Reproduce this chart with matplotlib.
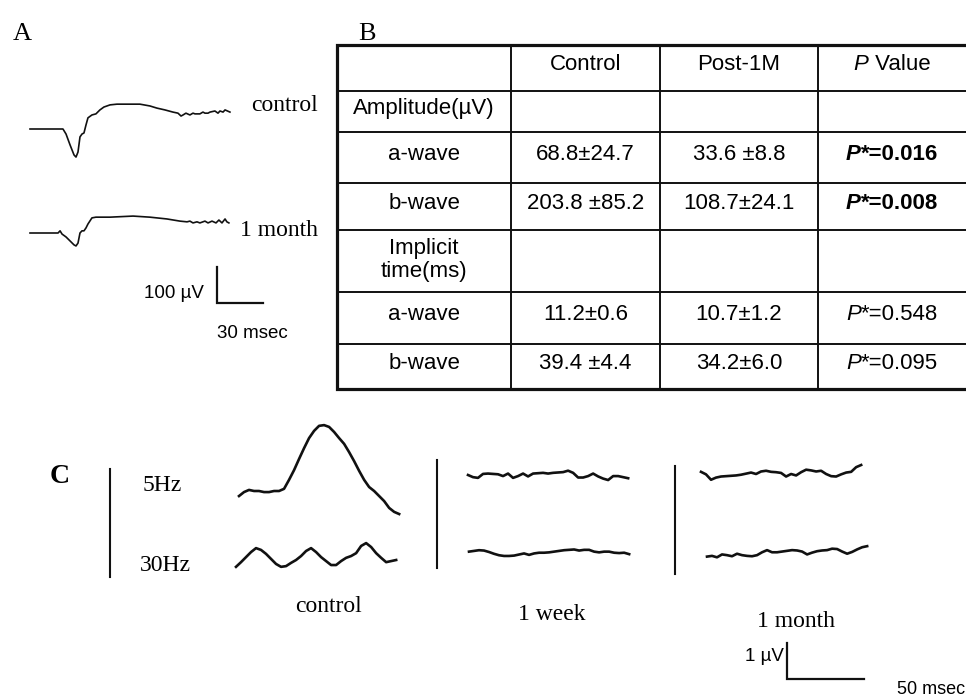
import numpy as np
import matplotlib
matplotlib.use("Agg")
import matplotlib.pyplot as plt
from matplotlib.transforms import Affine2D

# ---------------- Panel A: ERG traces (time in ms, amplitude in µV) ----------------
a_ctrl_t = [0, 21.5, 23.5, 26.1, 28.7, 30.0, 31.3, 32.6, 33.9, 35.2,
            36.5, 37.8, 40.4, 43.0, 45.6, 48.2, 52.2, 56.7, 65.2, 71.7,
            78.2, 82.8, 88.0, 93.2, 96.5, 98.5, 99.8, 101.7, 104.3, 106.3,
            107.6, 110.8, 112.8, 114.1, 116.1, 117.4, 120.6, 122.6, 123.9, 125.9,
            127.2, 130.4]
a_ctrl_v = [0, 0, -14, -44, -72, -78, -64, -22, -14, -11,
            11, 31, 39, 42, 53, 61, 67, 69, 69, 69,
            64, 58, 53, 47, 44, 36, 39, 44, 39, 44,
            42, 42, 47, 44, 44, 47, 50, 44, 50, 47,
            53, 47]
a_1m_t = [0, 18.3, 19.6, 20.9, 23.5, 26.1, 28.7, 30.0, 31.3, 32.6,
          33.9, 35.2, 36.5, 37.8, 40.4, 43.0, 45.6, 52.2, 67.2, 78.2,
          89.3, 97.8, 102.4, 104.3, 106.3, 108.9, 110.8, 114.1, 116.1, 118.7,
          121.3, 123.2, 125.2, 127.2, 128.4, 129.7]
a_1m_v = [0, 0, 6, -3, -11, -22, -33, -36, -28, 0,
          6, 6, 14, 25, 42, 44, 44, 44, 47, 44,
          39, 33, 31, 33, 28, 31, 28, 33, 28, 33,
          28, 36, 28, 39, 31, 28]
a_scale_ms, a_scale_uv = 30, 100

# ---------------- Panel B: table ----------------
col_headers = ["Control", "Post-1M", "Value"]
row_labels = ["Amplitude(µV)", "a-wave", "b-wave", "Implicit\ntime(ms)", "a-wave", "b-wave"]
control_vals = ["", "68.8±24.7", "203.8 ±85.2", "", "11.2±0.6", "39.4 ±4.4"]
post1m_vals = ["", "33.6 ±8.8", "108.7±24.1", "", "10.7±1.2", "34.2±6.0"]
p_vals = ["", "0.016", "0.008", "", "0.548", "0.095"]
p_bold = [False, True, True, False, False, False]

# ---------------- Panel C: flicker ERG (µV, sampled every c_dt ms) ----------------
c_dt = 3.25
c_ctrl_5hz = [-0.14, -0.03, 0.03, 0, 0, -0.03, -0.03, 0, 0, 0.06,
              0.31, 0.58, 0.89, 1.19, 1.47, 1.67, 1.81, 1.83, 1.78, 1.64,
              1.47, 1.31, 1.08, 0.83, 0.56, 0.31, 0.11, 0, -0.14, -0.28,
              -0.47, -0.58, -0.64]
c_ctrl_30hz = [-0.19, -0.06, 0.08, 0.22, 0.33, 0.28, 0.17, 0.03, -0.11, -0.19,
               -0.17, -0.08, 0, 0.11, 0.25, 0.33, 0.22, 0.08, -0.03, -0.14,
               -0.14, -0.03, 0.06, 0.11, 0.19, 0.39, 0.47, 0.36, 0.19, 0.06,
               -0.06, -0.03, 0]
c_1wk_5hz = [0, -0.06, -0.08, 0.03, 0.04, 0.03, 0.02, -0.03, 0.04, -0.08,
             -0.03, 0.04, -0.04, 0.04, 0.05, 0.06, 0.04, 0.06, 0.07, 0.08,
             0.12, 0.06, -0.07, -0.07, -0.03, 0.04, -0.04, -0.1, -0.14, -0.03,
             -0.03, -0.06, -0.09]
c_1wk_30hz = [0.01, 0.03, 0.05, 0.04, 0, -0.05, -0.09, -0.11, -0.11, -0.10,
              -0.07, -0.04, -0.08, -0.04, -0.02, -0.02, -0.01, 0.01, 0.03, 0.05,
              0.06, 0.07, 0.04, 0.06, 0.06, 0.01, -0.01, 0.01, 0.01, -0.02,
              -0.03, -0.02, -0.06]
c_1mo_5hz = [0.06, -0.01, -0.16, -0.10, -0.07, -0.06, -0.05, -0.04, -0.02, 0.01,
             0.04, 0, 0.07, 0.09, 0.06, 0.05, 0.03, -0.07, 0, -0.04,
             0.05, 0.12, 0.10, 0.07, 0.09, 0, -0.06, -0.07, -0.01, 0.04,
             0.06, 0.19, 0.25]
c_1mo_30hz = [-0.10, -0.08, -0.12, -0.04, -0.06, -0.09, -0.02, -0.06, -0.08, -0.09,
              -0.06, 0.02, 0.08, 0.02, 0.02, 0.04, 0.06, 0.08, 0.07, 0.04,
              -0.04, 0.01, 0.05, 0.07, 0.08, 0.12, 0.11, 0.04, -0.02, 0.03,
              0.10, 0.16, 0.19]
c_group_labels = ["control", "1 week", "1 month"]
c_freq_labels = ["5Hz", "30Hz"]
c_scale_ms, c_scale_uv = 50, 1

# ---------------- Figure ----------------
SERIF = "Liberation Serif"
SANS = "Liberation Sans"
INK = "#111111"

fig = plt.figure(figsize=(9.66, 6.99), dpi=100)
ax = fig.add_axes([0, 0, 1, 1])
ax.set_xlim(0, 966)
ax.set_ylim(699, 0)
ax.axis("off")


def trace_tr(x0, y0, px_ms, px_uv):
    return Affine2D().scale(px_ms, -px_uv).translate(x0, y0) + ax.transData


# ---- Panel A ----
pxA_ms, pxA_uv = 46 / 30, 36 / 100
ax.text(13, 40, "A", family=SERIF, fontsize=19, va="baseline", ha="left")
ax.plot(a_ctrl_t, a_ctrl_v, color=INK, lw=1.2, transform=trace_tr(30, 129, pxA_ms, pxA_uv))
ax.plot(a_1m_t, a_1m_v, color=INK, lw=1.2, transform=trace_tr(30, 233, pxA_ms, pxA_uv))
ax.text(251, 111, "control", family=SERIF, fontsize=17, va="baseline", ha="left")
ax.text(240, 236, "1 month", family=SERIF, fontsize=17, va="baseline", ha="left")
ax.plot([0, 0, a_scale_ms], [a_scale_uv, 0, 0], color=INK, lw=1.6,
        solid_joinstyle="miter", transform=trace_tr(217, 303, pxA_ms, pxA_uv))
ax.text(204, 298, "100 µV", family=SANS, fontsize=13.5, va="baseline", ha="right")
ax.text(217, 338, "30 msec", family=SANS, fontsize=13.5, va="baseline", ha="left")

# ---- Panel B ----
ax.text(358, 40, "B", family=SERIF, fontsize=19, va="baseline", ha="left")
col_x = [337, 511, 660, 818, 968]
row_y = [45, 91, 132, 183, 230, 292, 344, 389]
fsT = 16
for x in col_x[1:-1]:
    ax.plot([x, x], [row_y[0], row_y[-1]], color=INK, lw=1.4)
for y in row_y[1:-1]:
    ax.plot([col_x[0], col_x[-1]], [y, y], color=INK, lw=1.4)
ax.plot([col_x[-1], col_x[0], col_x[0], col_x[-1]],
        [row_y[0], row_y[0], row_y[-1], row_y[-1]], color=INK, lw=2.3,
        solid_joinstyle="miter")

col_c = [(col_x[i] + col_x[i + 1]) / 2 for i in range(4)]
col_c[3] = 892
row_c = [(row_y[i] + row_y[i + 1]) / 2 - 3 for i in range(7)]

italic_pairs = []


def p_text(xc, y, rest, bold):
    w = "bold" if bold else "normal"
    t1 = ax.text(xc, y, "P", family=SANS, fontsize=fsT, fontstyle="italic",
                 fontweight=w, ha="left", va="center")
    t2 = ax.annotate(rest, xy=(1, 0), xycoords=t1, family=SANS, fontsize=fsT,
                     fontweight=w, ha="left", va="bottom")
    italic_pairs.append((t1, t2, xc))


ax.text(col_c[1], row_c[0], col_headers[0], family=SANS, fontsize=fsT, ha="center", va="center")
ax.text(col_c[2], row_c[0], col_headers[1], family=SANS, fontsize=fsT, ha="center", va="center")
p_text(col_c[3], row_c[0], " " + col_headers[2], False)

for i, lab in enumerate(row_labels):
    y = row_c[i + 1]
    ax.text(col_c[0], y + (2 if "\n" in lab else 0), lab, family=SANS, fontsize=fsT,
            ha="center", va="center", linespacing=1.15)
    if control_vals[i]:
        ax.text(col_c[1], y, control_vals[i], family=SANS, fontsize=fsT, ha="center", va="center")
    if post1m_vals[i]:
        ax.text(col_c[2], y, post1m_vals[i], family=SANS, fontsize=fsT, ha="center", va="center")
    if p_vals[i]:
        p_text(col_c[3], y, "*=" + p_vals[i], p_bold[i])

# ---- Panel C ----
ax.text(50, 483, "C", family=SERIF, fontsize=20, fontweight="bold", va="baseline", ha="left")
ax.text(143, 491, c_freq_labels[0], family=SERIF, fontsize=17, va="baseline", ha="left")
ax.text(140, 571, c_freq_labels[1], family=SERIF, fontsize=17, va="baseline", ha="left")
for x, y0, y1 in [(110, 469, 577), (437, 460, 568), (675, 466, 574)]:
    ax.plot([x, x], [y0, y1], color=INK, lw=1.5)

pxC_ms, pxC_uv = 77 / 50, 36
traces_c = [(c_ctrl_5hz, 239, 491), (c_ctrl_30hz, 236, 560),
            (c_1wk_5hz, 468, 475), (c_1wk_30hz, 469, 552),
            (c_1mo_5hz, 701, 474), (c_1mo_30hz, 707, 553)]
for vals, x0, y0 in traces_c:
    t = np.arange(len(vals)) * c_dt
    ax.plot(t, vals, color=INK, lw=1.9, solid_joinstyle="round",
            transform=trace_tr(x0, y0, pxC_ms, pxC_uv))

for lab, xc, yb in zip(c_group_labels, [329, 552, 796], [612, 620, 627]):
    ax.text(xc, yb, lab, family=SERIF, fontsize=17, va="baseline", ha="center")

ax.plot([0, 0, c_scale_ms], [c_scale_uv, 0, 0], color=INK, lw=1.6,
        solid_joinstyle="miter", transform=trace_tr(787, 679, pxC_ms, pxC_uv))
ax.text(784, 661, "1 µV", family=SANS, fontsize=13.5, va="baseline", ha="right")
ax.text(897, 694, "50 msec", family=SANS, fontsize=13, va="baseline", ha="left")

# centre the italic-P strings
fig.canvas.draw()
renderer = fig.canvas.get_renderer()
for t1, t2, xc in italic_pairs:
    b1 = t1.get_window_extent(renderer)
    b2 = t2.get_window_extent(renderer)
    total = b2.x1 - b1.x0
    t1.set_x(xc - total / 2)

fig.savefig("out.png", dpi=100)
